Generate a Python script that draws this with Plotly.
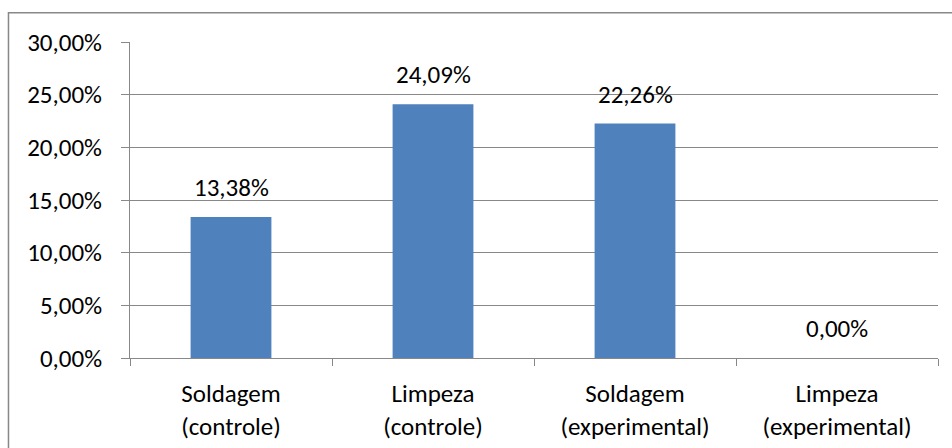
import plotly.graph_objects as go

categories = ["Soldagem<br>(controle)", "Limpeza<br>(controle)", "Soldagem<br>(experimental)", "Limpeza<br>(experimental)"]
values = [0.1338, 0.2409, 0.2226, 0.0]
y_ticks = [0, 0.05, 0.10, 0.15, 0.20, 0.25, 0.30]

FONT = "Carlito, Lato, sans-serif"
GRAY = "#888888"

fig = go.Figure()
fig.add_trace(go.Bar(x=categories, y=values, marker=dict(color="#4F81BD", line=dict(width=0)),
                     hoverinfo="skip"))

for c, v in zip(categories, values):
    fig.add_annotation(x=c, y=v, text=f"{v*100:.2f}%".replace(".", ","), showarrow=False,
                       yanchor="bottom", yshift=12, font=dict(family=FONT, size=25, color="#000000"))

fig.update_layout(
    width=952, height=448,
    margin=dict(l=130, r=14, t=42, b=90),
    paper_bgcolor="white", plot_bgcolor="white",
    separators=",.",
    bargap=0.6,
    showlegend=False,
    font=dict(family=FONT, size=25, color="#000000"),
    shapes=[dict(type="rect", xref="paper", yref="paper", x0=-0.1504, x1=1.06, y0=-0.4, y1=1.0927,
                 line=dict(color=GRAY, width=1.5), fillcolor="rgba(0,0,0,0)", layer="below")],
)
fig.update_yaxes(range=[0, 0.30], tickvals=y_ticks, tickformat=".2%", showgrid=True, gridcolor=GRAY,
                 gridwidth=1, showline=True, linecolor=GRAY, linewidth=1, ticks="outside", ticklen=8,
                 tickcolor=GRAY, ticklabelstandoff=14, zeroline=False, fixedrange=True, automargin=False)
fig.update_xaxes(showline=True, linecolor=GRAY, linewidth=1, ticks="outside", ticklen=7, tickcolor=GRAY,
                 tickson="boundaries", ticklabelstandoff=13, fixedrange=True, automargin=False)

fig.write_html("out.html")
